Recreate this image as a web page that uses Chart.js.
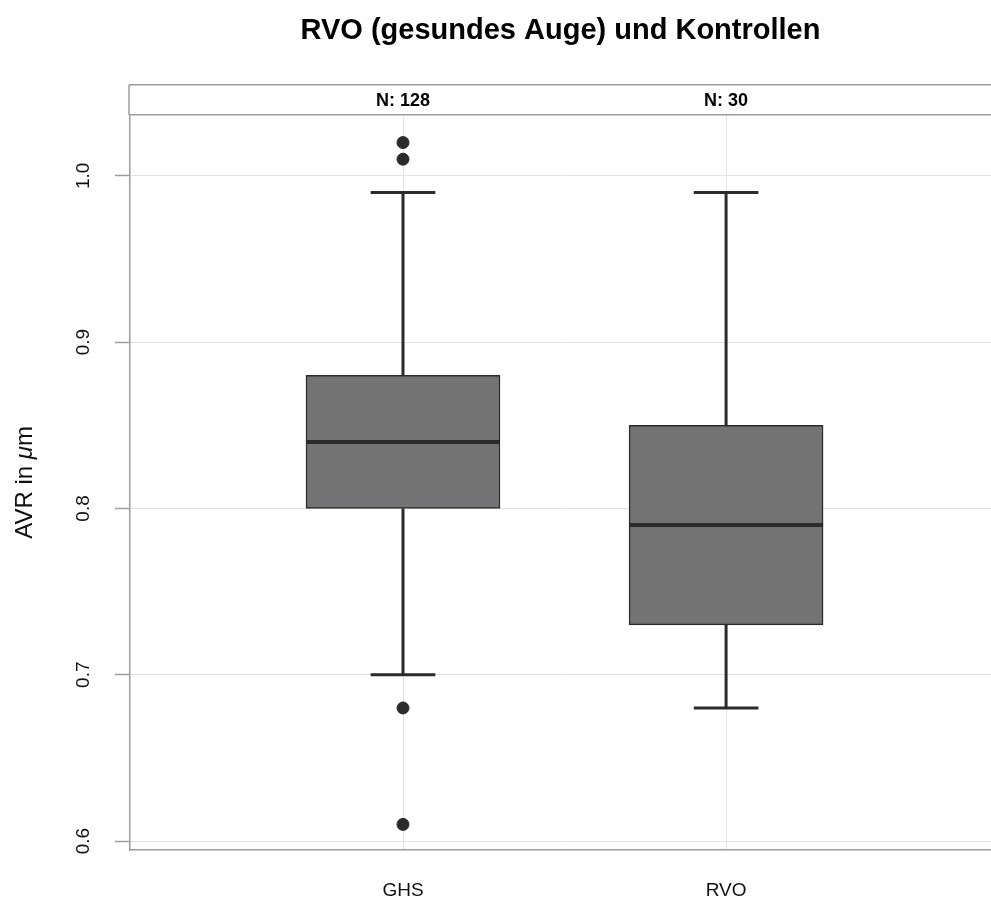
<!DOCTYPE html>
<html>
<head>
<meta charset="utf-8">
<script src="https://cdn.jsdelivr.net/npm/chart.js@4"></script>
<style>
  body { margin: 0; background: #fff; }
</style>
</head>
<body>
<canvas id="boxChart" width="991" height="901"></canvas>
<script>
var groups = ['GHS', 'RVO'];
var counts = [128, 30];
var lowerWhisker = [0.70, 0.68];
var q1 = [0.80, 0.73];
var median = [0.84, 0.79];
var q3 = [0.88, 0.85];
var upperWhisker = [0.99, 0.99];
var outliers = [[1.02, 1.01, 0.68, 0.61], []];
var yTicks = [0.6, 0.7, 0.8, 0.9, 1.0];

var FONT = "'Liberation Sans', Arial, Helvetica, sans-serif";
var DARK = '#2b2b2b';
var AXIS = '#9a9ca3';
var GRID = '#e0e3ea';

var boxData = groups.map(function (g, i) { return { x: i + 1, y: [q1[i], q3[i]] }; });
var outlierData = [];
outliers.forEach(function (list, i) {
    list.forEach(function (v) { outlierData.push({ x: i + 1, y: v }); });
});

function groupTicks(scale) {
    scale.ticks = groups.map(function (g, i) { return { value: i + 1 }; });
}

// whiskers, caps and medians, drawn from the bar elements and the y scale
var boxParts = {
    id: 'boxParts',
    afterDatasetsDraw: function (chart) {
        var ctx = chart.ctx;
        var ys = chart.scales.y;
        var bars = chart.getDatasetMeta(0).data;
        ctx.save();
        ctx.strokeStyle = DARK;
        bars.forEach(function (el, i) {
            var cx = el.x, w = el.width, cap = w / 3;
            ctx.lineWidth = 3;
            ctx.beginPath();
            ctx.moveTo(cx, ys.getPixelForValue(q3[i]));
            ctx.lineTo(cx, ys.getPixelForValue(upperWhisker[i]));
            ctx.moveTo(cx, ys.getPixelForValue(q1[i]));
            ctx.lineTo(cx, ys.getPixelForValue(lowerWhisker[i]));
            ctx.moveTo(cx - cap / 2, ys.getPixelForValue(upperWhisker[i]));
            ctx.lineTo(cx + cap / 2, ys.getPixelForValue(upperWhisker[i]));
            ctx.moveTo(cx - cap / 2, ys.getPixelForValue(lowerWhisker[i]));
            ctx.lineTo(cx + cap / 2, ys.getPixelForValue(lowerWhisker[i]));
            ctx.stroke();
            ctx.lineWidth = 4;
            ctx.beginPath();
            ctx.moveTo(cx - w / 2, ys.getPixelForValue(median[i]));
            ctx.lineTo(cx + w / 2, ys.getPixelForValue(median[i]));
            ctx.stroke();
        });
        ctx.restore();
    }
};

// strip frame above the plot and the y title with italic mu
var frame = {
    id: 'frame',
    afterDraw: function (chart) {
        var ctx = chart.ctx;
        var top = chart.scales.x2;
        var area = chart.chartArea;
        ctx.save();
        ctx.strokeStyle = AXIS;
        ctx.lineWidth = 1.5;
        ctx.beginPath();
        ctx.moveTo(area.left - 1, top.top);
        ctx.lineTo(area.right, top.top);
        ctx.moveTo(area.left - 1, top.top);
        ctx.lineTo(area.left - 1, top.bottom);
        ctx.stroke();

        var parts = [['AVR in ', 'normal'], ['\u03bc', 'italic'], ['m', 'normal']];
        var total = 0;
        parts.forEach(function (p) {
            ctx.font = p[1] + ' 24px ' + FONT;
            p.push(ctx.measureText(p[0]).width);
            total += p[2];
        });
        ctx.translate(25, (area.top + area.bottom) / 2);
        ctx.rotate(-Math.PI / 2);
        ctx.fillStyle = '#111';
        ctx.textBaseline = 'middle';
        ctx.textAlign = 'left';
        var x = -total / 2;
        parts.forEach(function (p) {
            ctx.font = p[1] + ' 24px ' + FONT;
            ctx.fillText(p[0], x, 0);
            x += p[2];
        });
        ctx.restore();
    }
};

var ctx = document.getElementById('boxChart').getContext('2d');
var boxChart = new Chart(ctx, {
    type: 'bar',
    data: {
        datasets: [{
            label: 'Box',
            data: boxData,
            backgroundColor: '#737373',
            borderColor: DARK,
            borderWidth: 1.5,
            borderSkipped: false,
            barThickness: 194
        }, {
            type: 'scatter',
            label: 'Ausreisser',
            data: outlierData,
            backgroundColor: DARK,
            borderColor: DARK,
            pointRadius: 6,
            pointHoverRadius: 6
        }]
    },
    options: {
        responsive: false,
        animation: false,
        layout: { autoPadding: false, padding: 0 },
        plugins: {
            legend: { display: false },
            tooltip: { enabled: false },
            title: {
                display: true,
                fullSize: false,
                text: 'RVO (gesundes Auge) und Kontrollen',
                color: '#000',
                font: { family: FONT, size: 29, weight: 'bold' },
                padding: { top: 14, bottom: 36 }
            }
        },
        scales: {
            x: {
                type: 'linear',
                position: 'bottom',
                offset: false,
                min: 0.155,
                max: 2.82,
                afterBuildTicks: groupTicks,
                afterFit: function (s) { s.height = 51; },
                ticks: {
                    callback: function (v) { return groups[Math.round(v) - 1]; },
                    color: '#111',
                    font: { family: FONT, size: 19 },
                    padding: 29
                },
                grid: { color: GRID, lineWidth: 1, drawTicks: false, offset: false },
                border: { color: AXIS, width: 1.5 }
            },
            x2: {
                type: 'linear',
                position: 'top',
                offset: false,
                min: 0.155,
                max: 2.82,
                afterBuildTicks: groupTicks,
                afterFit: function (s) { s.height = 30; },
                ticks: {
                    callback: function (v) { return 'N: ' + counts[Math.round(v) - 1]; },
                    color: '#000',
                    font: { family: FONT, size: 18, weight: 'bold' },
                    padding: 3
                },
                grid: { display: false, drawTicks: false, offset: false },
                border: { color: AXIS, width: 1.5 }
            },
            y: {
                type: 'linear',
                min: 0.5946,
                max: 1.0367,
                afterBuildTicks: function (s) {
                    s.ticks = yTicks.map(function (v) { return { value: v }; });
                },
                afterFit: function (s) { s.width = 130; },
                ticks: {
                    callback: function (v) { return v.toFixed(1); },
                    color: '#111',
                    font: { family: FONT, size: 19 },
                    minRotation: 90,
                    maxRotation: 90,
                    crossAlign: 'center',
                    padding: 18
                },
                grid: { color: GRID, lineWidth: 1, tickLength: 15, tickColor: AXIS, tickWidth: 1.5 },
                border: { color: AXIS, width: 1.5 }
            }
        }
    },
    plugins: [boxParts, frame]
});
</script>
</body>
</html>
